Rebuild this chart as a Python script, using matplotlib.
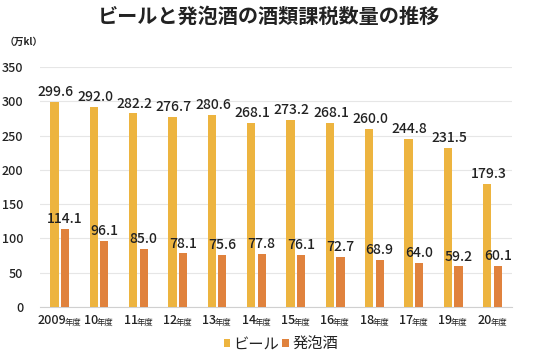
import matplotlib
matplotlib.use("Agg")
import matplotlib.pyplot as plt
from matplotlib.offsetbox import TextArea, HPacker, AnnotationBbox
import numpy as np

plt.rcParams['font.family'] = ['Noto Sans CJK JP', 'DejaVu Sans']

categories = ["2009", "10", "11", "12", "13", "14", "15", "16", "18", "17", "19", "20"]
suffix = "年度"
beer = [299.6, 292.0, 282.2, 276.7, 280.6, 268.1, 273.2, 268.1, 260.0, 244.8, 231.5, 179.3]
happoshu = [114.1, 96.1, 85.0, 78.1, 75.6, 77.8, 76.1, 72.7, 68.9, 64.0, 59.2, 60.1]
series_names = ["ビール", "発泡酒"]
yticks = [0, 50, 100, 150, 200, 250, 300, 350]

c_beer = "#EDB43F"
c_hap = "#E0823D"
txt = "#222222"

fig = plt.figure(figsize=(5.56, 3.6), dpi=100)
ax = fig.add_axes([0.072, 0.147, 0.849, 0.667])

x = np.arange(len(categories))
w = 0.21
b1 = ax.bar(x - 0.135, beer, width=w, color=c_beer, label=series_names[0], zorder=3)
b2 = ax.bar(x + 0.135, happoshu, width=w, color=c_hap, label=series_names[1], zorder=3)

for xi, v in zip(x - 0.135, beer):
    ax.annotate(f"{v:.1f}", (xi, v), xytext=(1, 2), textcoords="offset points",
                ha="center", va="bottom", fontsize=10, color=txt, fontweight="medium")
for xi, v in zip(x + 0.135, happoshu):
    ax.annotate(f"{v:.1f}", (xi, v), xytext=(0, 2), textcoords="offset points",
                ha="center", va="bottom", fontsize=10, color=txt, fontweight="medium")

ax.set_xlim(-0.5, len(categories) - 0.5)
ax.set_ylim(0, 350)
ax.set_yticks(yticks)
ax.set_yticklabels([str(t) for t in yticks], fontsize=9, color=txt, fontweight="medium")
ax.tick_params(axis='y', length=0, pad=12)
ax.set_xticks(x)
ax.set_xticklabels([])
ax.tick_params(axis='x', length=0)
ax.grid(axis='y', color="#e6e6e6", linewidth=0.8, zorder=0)
for s in ["top", "right", "left"]:
    ax.spines[s].set_visible(False)
ax.spines["bottom"].set_color("#d0d0d0")

for xi, c in zip(x, categories):
    box = HPacker(children=[TextArea(c, textprops=dict(fontsize=9, color=txt, fontweight="medium")),
                            TextArea(suffix, textprops=dict(fontsize=6, color=txt))],
                  align="baseline", pad=0, sep=-1)
    ab = AnnotationBbox(box, (xi, 0), xybox=(0, -10), xycoords=('data', 'axes fraction'),
                        boxcoords="offset points", frameon=False, box_alignment=(0.5, 0.5),
                        pad=0)
    ax.add_artist(ab)

fig.text(0.484, 0.955, "ビールと発泡酒の酒類課税数量の推移", ha="center", va="center",
         fontsize=14.5, fontweight="bold", color="#222222")
fig.text(0.008, 0.883, "（万kl）", ha="left", va="center", fontsize=7, fontweight="bold", color=txt)

leg = fig.legend(handles=[b1, b2], loc="center", bbox_to_anchor=(0.505, 0.044), ncol=2,
                 frameon=False, fontsize=11, handlelength=0.45, handleheight=0.45,
                 handletextpad=0.2, columnspacing=0.2)
for t in leg.get_texts():
    t.set_color(txt)

fig.savefig("out.png", dpi=100)
